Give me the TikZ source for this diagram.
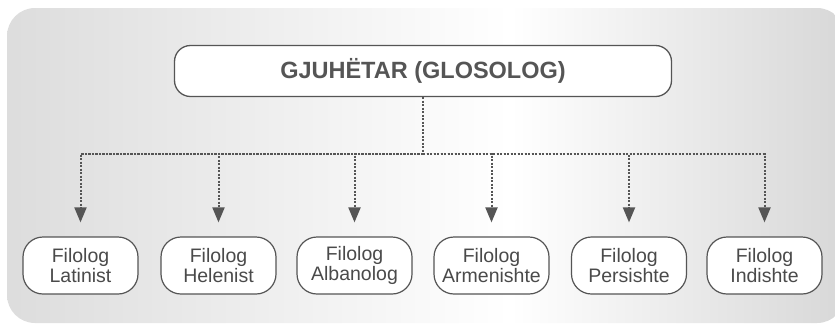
\documentclass[tikz,border=0pt]{standalone}
\usepackage{fontspec}
\setmainfont{Liberation Sans}
\usepackage{xcolor}
\usetikzlibrary{arrows.meta}

\definecolor{lineGray}{HTML}{555555}
\definecolor{textGray}{HTML}{4A4A4A}

\pgfdeclarehorizontalshading{bgshade}{100bp}{color(0bp)=(gray!27); color(25bp)=(gray!27); color(55bp)=(white); color(75bp)=(gray!31); color(100bp)=(gray!31)}

\tikzset{
  topbox/.style={draw=lineGray, fill=white, line width=1.3pt, rounded corners=16pt,
    minimum width=497pt, minimum height=51pt, text=lineGray,
    font=\fontsize{23.5}{27}\selectfont\bfseries},
  leafbox/.style={draw=lineGray, fill=white, line width=1.2pt, rounded corners=20pt,
    minimum width=115pt, minimum height=57pt, align=center, text=textGray,
    font=\fontsize{19.5}{20.5}\selectfont, inner sep=1pt},
  dotline/.style={draw=lineGray, line width=2pt, dash pattern=on 2.2pt off 1.3pt},
  tip/.style={-{Triangle[width=12pt,length=15pt]}}
}

\begin{document}
\begin{tikzpicture}[x=1pt,y=-1pt]
\useasboundingbox (0,0) rectangle (835,333);
\shade[shading=bgshade, rounded corners=28pt] (7,8) rectangle (845,323);

\node[topbox] (gl) at (423,71) {GJUHËTAR (GLOSOLOG)};

\node[leafbox] (lat) at (80.5,265.5) {Filolog\\Latinist};
\node[leafbox] (hel) at (218.5,265.5) {Filolog\\Helenist};
\node[leafbox] (alb) at (354.5,265.5) {Filolog\\Albanolog};
\node[leafbox] (arm) at (491.5,265.5) {Filolog\\Armenishte};
\node[leafbox] (per) at (629,265.5) {Filolog\\Persishte};
\node[leafbox] (ind) at (764.5,265.5) {Filolog\\Indishte};

\coordinate (bus) at (423,154);
\draw[dotline] (gl.south) -- (bus);
\foreach \n in {lat,hel,alb,arm,per,ind}
  \draw[dotline,tip] (bus) -| ([yshift=14pt]\n.north);
\end{tikzpicture}
\end{document}
